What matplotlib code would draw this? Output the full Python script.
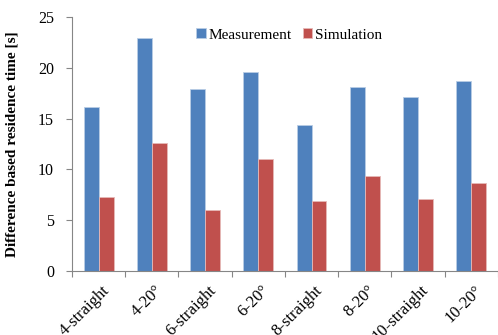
import numpy as np
import matplotlib.pyplot as plt

# --- data ---
categories = ["4-straight", "4-20°", "6-straight", "6-20°",
              "8-straight", "8-20°", "10-straight", "10-20°"]
measurement = [16.1, 22.9, 17.9, 19.6, 14.4, 18.1, 17.1, 18.7]
simulation = [7.3, 12.6, 6.0, 11.0, 6.9, 9.4, 7.1, 8.7]

plt.rcParams['font.family'] = ['Liberation Serif', 'DejaVu Serif']

fig = plt.figure(figsize=(4.98, 3.35), dpi=100)
ax = fig.add_axes([0.1446, 0.191, 0.855, 0.758])

x = np.arange(len(categories))
w = 0.28
ax.bar(x - w / 2, measurement, w, color="#4F81BD", edgecolor="#B9CDE5",
       linewidth=0.6, label="Measurement")
ax.bar(x + w / 2, simulation, w, color="#C0504D", edgecolor="#E6B9B8",
       linewidth=0.6, label="Simulation")

ax.set_xlim(-0.5, len(categories) - 0.5)
ax.set_ylim(0, 25)
ax.set_yticks([0, 5, 10, 15, 20, 25])

# category boundary ticks on x, labels at the centres
ax.set_xticks(np.arange(len(categories) + 1) - 0.5)
ax.set_xticklabels([])
ax.set_xticks(x + 0.05, minor=True)
ax.set_xticklabels(categories, minor=True, rotation=45, ha="right",
                   rotation_mode="anchor", fontsize=12)
ax.tick_params(axis="x", which="minor", length=0, pad=8)
ax.tick_params(axis="x", which="major", length=4, color="#868686")
ax.tick_params(axis="y", length=4, color="#868686", labelsize=11.5, pad=9)

for s in ["top", "right"]:
    ax.spines[s].set_visible(False)
for s in ["left", "bottom"]:
    ax.spines[s].set_color("#868686")

ax.set_ylabel("Difference based residence time [s]", fontsize=11,
              fontweight="bold", labelpad=14)

ax.legend(loc="upper center", bbox_to_anchor=(0.51, 1.01), ncol=2,
          frameon=False, fontsize=11, handlelength=0.6, handleheight=0.6,
          handletextpad=0.2, columnspacing=0.7)

fig.savefig("out.png", dpi=100)
